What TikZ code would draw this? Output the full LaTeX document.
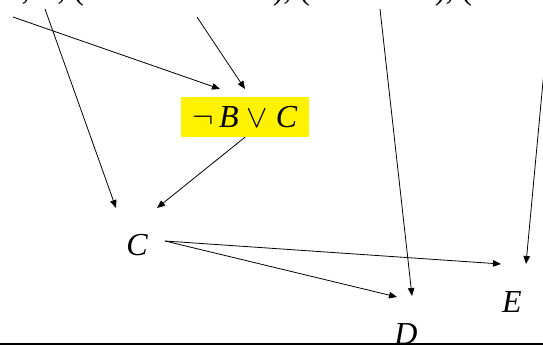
\documentclass[tikz,border=0pt]{standalone}
\usepackage{fix-cm}
\usepackage{fontspec}
\setmainfont{Liberation Serif}
\usetikzlibrary{arrows.meta}
\begin{document}
\begin{tikzpicture}[x=1pt,y=-1pt,
  lbl/.style={font=\fontsize{32}{38}\selectfont\itshape, inner sep=0pt, anchor=base},
  arr/.style={line width=0.8pt, -{Triangle[length=8pt,width=6.5pt]}},
  topline/.style={font=\fontsize{32}{38}\selectfont, inner sep=0pt, anchor=base west},
  hilite/.style={fill=yellow, minimum width=128pt, minimum height=40pt, inner sep=0pt,
    font=\fontsize{32}{38}\selectfont}]
\useasboundingbox (0,0) rectangle (543,345);
\clip (0,0) rectangle (543,345);
% clipped formula line at the top
\node[topline] (formula) at (2,-0.6) {\textit{A}, \textit{B}, ($\neg$\,\textit{A} $\vee$ $\neg$\,\textit{B} $\vee$ \textit{C}), ($\neg$\,\textit{C} \ $\vee$ \ \textit{D}), ($\neg$\,\textit{C} \ $\vee$ \ \textit{E})};
% nodes
\node[hilite] (bc) at (245,117) {$\neg$\,\textit{B} $\vee$ \textit{C}};
\node[lbl] (c) at (137,255) {C};
\node[lbl] (d) at (406,344) {D};
\node[lbl] (e) at (512,312) {E};
% free ends
\coordinate (s1) at (13,17);
\coordinate (s2) at (45,9);
\coordinate (s3) at (197,17);
\coordinate (s4) at (380,9);
\coordinate (s5) at (545,60);
\coordinate (bc-in1) at (220,89);
\coordinate (bc-in2) at (245,89);
\coordinate (c-in1) at (116,208);
\coordinate (c-in2) at (157,208);
\coordinate (c-out) at (165,241);
\coordinate (d-in1) at (397,297);
\coordinate (d-in2) at (412,296);
\coordinate (e-in1) at (501,264);
\coordinate (e-in2) at (526,264);
% connectors
\draw[arr] (s1) -- (bc-in1);
\draw[arr] (s3) -- (bc-in2);
\draw[arr] (s2) -- (c-in1);
\draw[arr] (bc.south) -- (c-in2);
\draw[arr] (c-out) -- (e-in1);
\draw[arr] (c-out) -- (d-in1);
\draw[arr] (s4) -- (d-in2);
\draw[arr] (s5) -- (e-in2);
% bottom rule
\draw[line width=2pt] (0,344.2) -- (543,344.2);
\end{tikzpicture}
\end{document}
